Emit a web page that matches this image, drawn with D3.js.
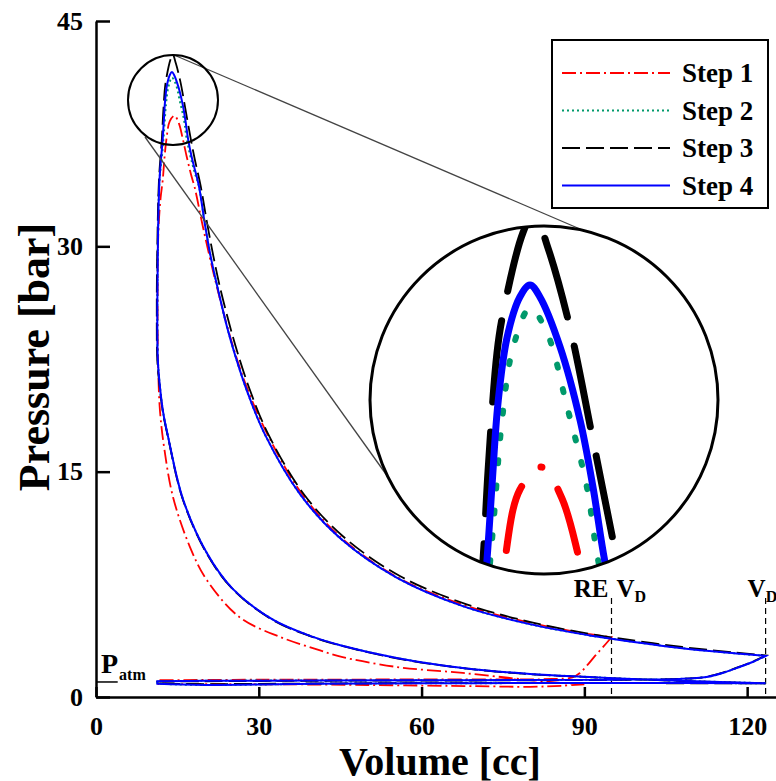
<!DOCTYPE html>
<html>
<head>
<meta charset="utf-8">
<script src="https://cdn.jsdelivr.net/npm/d3@7"></script>
<style>
  body { margin: 0; background: #fff; }
  svg { display: block; }
  text { font-family: "Liberation Serif", "Times New Roman", serif; font-weight: bold; }
</style>
</head>
<body>
<div id="chart"></div>
<script>
// volume [cc] / pressure [bar] pairs, in cycle order
const step1 = [
  [90, 0.85], [86, 0.93], [79.9, 1.13], [67.6, 1.6], [55.4, 2.0], [44.9, 2.7], [41.3, 3.1],
  [33.9, 4.0], [26.5, 5.3], [20.4, 7.8], [17.3, 10.0], [14.2, 13.3], [12.6, 16.5], [11.8, 19],
  [11.45, 22], [11.35, 27], [11.5, 31], [11.9, 33.2], [12.3, 34.4], [12.6, 35.8], [13.0, 37.19],
  [13.6, 38.34], [14.47, 38.7], [15.26, 38.2], [15.97, 37.19], [16.7, 36.0], [17.5, 34.8],
  [18.2, 33.9], [19.7, 31.3], [21.4, 28.6], [23.2, 26.0], [25.2, 23.4], [27.5, 20.9], [31.3, 17.7],
  [37.8, 13.6], [45.2, 10.6], [55.4, 8.0], [67.6, 6.15], [79.9, 4.95], [91, 4.18], [95, 3.98],
  [95, 3.98], [93.5, 3.35], [92, 2.75], [90.5, 2.1], [89.2, 1.6], [87.8, 1.3], [84, 1.2],
  [60, 1.17], [30, 1.15], [11.5, 1.12], [11.5, 1.12], [11.5, 0.86], [11.5, 0.86], [30, 0.85],
  [50, 0.8], [70, 0.72], [80, 0.68], [86, 0.75], [90, 0.85]
];
const step2 = [
  [123.4, 0.92], [112, 1.03], [100, 1.18], [91, 1.33], [80, 1.53], [67.6, 1.93], [55.4, 2.6],
  [45, 3.45], [40, 4.0], [32.6, 5.15], [25.2, 7.2], [20.4, 9.6], [16, 13.2], [13.3, 17.3],
  [12.4, 18.9], [11.8, 20.6], [11.4, 22.4], [11.3, 26], [11.4, 30], [11.7, 34.4], [12.2, 36.2],
  [12.54, 37.7], [12.9, 39.45], [13.33, 40.6], [14.0, 41.23], [14.67, 40.84], [15.46, 39.66],
  [16.24, 38.38], [16.68, 37.22], [17.4, 36.0], [18.2, 34.9], [19.0, 33.95], [20.1, 31.4],
  [21.2, 29.2], [22.5, 27.1], [24.1, 24.7], [25.6, 22.8], [27.8, 20.4], [31.1, 17.5],
  [37.6, 13.5], [44.9, 10.6], [55.4, 7.95], [67.6, 6.05], [79.9, 4.85], [91, 4.1], [95, 3.88],
  [108, 3.25], [118, 2.9], [123.4, 2.73], [123.4, 2.73], [121, 2.33], [118.6, 2.0], [115.5, 1.6],
  [112.5, 1.33], [107.5, 1.2], [95, 1.15], [70, 1.12], [40, 1.1], [20, 1.08], [11.3, 1.05],
  [11.3, 1.05], [11.3, 0.88], [11.3, 0.88], [20, 0.8], [40, 0.88], [70, 0.92], [100, 0.93],
  [123.4, 0.92]
];
const step3 = [
  [123.4, 0.9], [112, 1.02], [100, 1.17], [91, 1.32], [80, 1.52], [67.6, 1.92], [55.4, 2.58],
  [45, 3.43], [40, 3.98], [32.6, 5.12], [25.2, 7.17], [20.4, 9.55], [16, 13.15], [13.3, 17.25],
  [12.35, 18.9], [11.75, 20.6], [11.3, 22.4], [11.2, 26], [11.3, 30], [11.6, 34.4], [12.15, 37.22],
  [12.35, 38.65], [12.7, 40.52], [12.94, 41.15], [13.72, 42.43], [14.15, 42.75], [14.7, 42.2],
  [15.57, 40.93], [16.48, 39.13], [17.43, 37.22], [18.2, 35.8], [19.3, 34.0], [20.4, 31.7],
  [21.6, 29.4], [22.9, 27.2], [24.6, 24.8], [26.1, 22.9], [28.3, 20.5], [31.6, 17.6], [38.2, 13.55],
  [45.5, 10.7], [56, 8.05], [68.3, 6.17], [80.5, 4.95], [91.3, 4.18], [95, 3.97], [108, 3.33],
  [118, 2.95], [123.4, 2.77], [123.4, 2.77], [121, 2.35], [118.6, 2.02], [115.5, 1.62],
  [112.5, 1.35], [107.5, 1.2], [95, 1.14], [70, 1.1], [40, 1.08], [20, 1.05], [11.3, 1.02],
  [11.3, 1.02], [11.3, 0.9], [11.3, 0.9], [20, 0.86], [40, 0.9], [70, 0.93], [100, 0.92],
  [123.4, 0.9]
];
const step4 = [
  [123.4, 0.92], [112, 1.03], [100, 1.18], [91, 1.33], [80, 1.53], [67.6, 1.93], [55.4, 2.6],
  [45, 3.45], [40, 4.0], [32.6, 5.15], [25.2, 7.2], [20.4, 9.6], [16, 13.2], [13.3, 17.3],
  [12.4, 18.9], [11.8, 20.6], [11.4, 22.4], [11.3, 26], [11.4, 30], [11.7, 34.4], [12.3, 37.19],
  [12.5, 38.38], [12.74, 39.72], [13.1, 40.77], [13.6, 41.41], [14.0, 41.6], [14.39, 41.41],
  [15.18, 40.62], [15.97, 39.45], [16.48, 38.38], [16.95, 37.19], [17.6, 36.0], [18.3, 35.0],
  [19.0, 33.95], [20.1, 31.4], [21.2, 29.2], [22.5, 27.1], [24.1, 24.7], [25.6, 22.8],
  [27.8, 20.4], [31.1, 17.5], [37.6, 13.5], [44.9, 10.6], [55.4, 7.95], [67.6, 6.05],
  [79.9, 4.85], [91, 4.1], [95, 3.88], [108, 3.25], [118, 2.9], [123.4, 2.73], [123.4, 2.73],
  [121, 2.33], [118.6, 2.0], [115.5, 1.6], [112.5, 1.33], [107.5, 1.2], [95, 1.15], [70, 1.12],
  [40, 1.1], [20, 1.08], [11.3, 1.05], [11.3, 1.05], [11.3, 0.88], [11.3, 0.88], [20, 0.8],
  [40, 0.88], [70, 0.92], [100, 0.93], [123.4, 0.92]
];

const stepNames = ["Step 1", "Step 2", "Step 3", "Step 4"];
const xTicks = [0, 30, 60, 90, 120];
const yTicks = [0, 15, 30, 45];
const patm = 1;
const volRE = 95;
const volVD = 123.4;

const series = [step1, step2, step3, step4];
const styles = [
  { color: "#ff0000", dash: "14,4,2,4", width: 1.8, idash: "66,28,1,28", iwidth: 7, dotAtPeak: true },
  { color: "#00996b", dash: "2,3", width: 2, idash: "3,22", iwidth: 6 },
  { color: "#000000", dash: "18,6", width: 1.8, idash: "82,30", iwidth: 7 },
  { color: "#0000ff", dash: null, width: 2, idash: null, iwidth: 7 }
];

const width = 776, height = 781;
const svg = d3.select("#chart").append("svg")
  .attr("width", width)
  .attr("height", height);

const x = d3.scaleLinear().domain([0, 125.5]).range([96, 777]);
const y = d3.scaleLinear().domain([0, 45]).range([697, 21]);

const line = d3.line()
  .x(d => x(d[0]))
  .y(d => y(d[1]))
  .curve(d3.curveCatmullRom.alpha(0.5));

// axes, ticks pointing inward
const xAxis = svg.append("g")
  .attr("transform", `translate(0,${y(0)})`)
  .call(d3.axisBottom(x).tickValues(xTicks).tickSize(-10).tickSizeOuter(0).tickPadding(20));
const yAxis = svg.append("g")
  .attr("transform", `translate(${x(0)},0)`)
  .call(d3.axisLeft(y).tickValues(yTicks).tickSize(-14).tickSizeOuter(0).tickPadding(13));

[xAxis, yAxis].forEach(g => {
  g.selectAll("path, line").attr("stroke", "#000").attr("stroke-width", 2.5);
  g.selectAll("text")
    .attr("fill", "#000")
    .style("font-size", "26px")
    .style("font-family", "'Liberation Serif', serif")
    .style("font-weight", "bold");
});

svg.append("text")
  .attr("x", 440)
  .attr("y", 775)
  .attr("text-anchor", "middle")
  .style("font-size", "40px")
  .text("Volume [cc]");

svg.append("text")
  .attr("transform", "translate(49,357) rotate(-90)")
  .attr("text-anchor", "middle")
  .style("font-size", "44px")
  .text("Pressure [bar]");

// atmospheric pressure marker
svg.append("line")
  .attr("x1", x(0)).attr("x2", x(4))
  .attr("y1", y(patm)).attr("y2", y(patm))
  .attr("stroke", "#000").attr("stroke-width", 1.5);
const pLabel = svg.append("text")
  .attr("x", 101).attr("y", 673)
  .style("font-size", "28px")
  .text("P");
pLabel.append("tspan").attr("dx", 1).attr("dy", 7).style("font-size", "16px").text("atm");

// RE and VD markers
[volRE, volVD].forEach(v => {
  svg.append("line")
    .attr("x1", x(v)).attr("x2", x(v))
    .attr("y1", 598).attr("y2", y(0))
    .attr("stroke", "#000").attr("stroke-width", 1.2)
    .attr("stroke-dasharray", "6,4");
});
svg.append("text")
  .attr("x", x(volRE) - 3).attr("y", 597)
  .attr("text-anchor", "end")
  .style("font-size", "25px")
  .text("RE");
[x(volRE) + 5, x(volVD) - 18].forEach(px => {
  const t = svg.append("text").attr("x", px).attr("y", 597).style("font-size", "25px").text("V");
  t.append("tspan").attr("dy", 5).style("font-size", "16px").text("D");
});

// cycles
series.forEach((s, i) => {
  svg.append("path")
    .datum(s)
    .attr("d", line)
    .attr("fill", "none")
    .attr("stroke", styles[i].color)
    .attr("stroke-width", styles[i].width)
    .attr("stroke-dasharray", styles[i].dash);
});

// magnified view of the peak
const small = { cx: 173, cy: 100, r: 45 };
const big = { cx: 544, cy: 400, r: 174 };

svg.append("line")
  .attr("x1", 174).attr("y1", 55).attr("x2", 580).attr("y2", 229)
  .attr("stroke", "#444").attr("stroke-width", 1.3);
svg.append("line")
  .attr("x1", 145).attr("y1", 137).attr("x2", 388).attr("y2", 477)
  .attr("stroke", "#444").attr("stroke-width", 1.3);
svg.append("circle")
  .attr("cx", small.cx).attr("cy", small.cy).attr("r", small.r)
  .attr("fill", "none").attr("stroke", "#000").attr("stroke-width", 2);

svg.append("clipPath").attr("id", "lens")
  .append("circle").attr("cx", big.cx).attr("cy", big.cy).attr("r", big.r);
svg.append("circle")
  .attr("cx", big.cx).attr("cy", big.cy).attr("r", big.r)
  .attr("fill", "#fff");

const ix = d3.scaleLinear().domain([14, 15]).range([530, 555.4]);
const iy = d3.scaleLinear().domain([41.6, 40.6]).range([285, 347.8]);
const iline = d3.line()
  .x(d => ix(d[0]))
  .y(d => iy(d[1]))
  .curve(d3.curveCatmullRom.alpha(0.5));

const lens = svg.append("g").attr("clip-path", "url(#lens)");
series.forEach((s, i) => {
  const p = lens.append("path")
    .datum(s.filter(d => d[1] > 33))
    .attr("d", iline)
    .attr("fill", "none")
    .attr("stroke", styles[i].color)
    .attr("stroke-width", styles[i].iwidth)
    .attr("stroke-linecap", "round")
    .attr("stroke-dasharray", styles[i].idash);
  if (styles[i].dotAtPeak) {
    // put the dot of the dash-dot pattern on the top of the curve
    const node = p.node();
    const total = node.getTotalLength();
    let best = 0, bestY = Infinity;
    for (let l = 0; l <= total; l += 0.5) {
      const pt = node.getPointAtLength(l);
      if (pt.y < bestY) { bestY = pt.y; best = l; }
    }
    p.attr("stroke-dashoffset", 94.5 - best);
  }
});

svg.append("circle")
  .attr("cx", big.cx).attr("cy", big.cy).attr("r", big.r)
  .attr("fill", "none").attr("stroke", "#000").attr("stroke-width", 3);

// legend
const legend = svg.append("g");
legend.append("rect")
  .attr("x", 552).attr("y", 40).attr("width", 216).attr("height", 168)
  .attr("fill", "#fff").attr("stroke", "#000").attr("stroke-width", 2);
stepNames.forEach((name, i) => {
  const ly = 73 + i * 37.5;
  legend.append("line")
    .attr("x1", 562).attr("x2", 670)
    .attr("y1", ly).attr("y2", ly)
    .attr("stroke", styles[i].color)
    .attr("stroke-width", styles[i].width)
    .attr("stroke-dasharray", styles[i].dash);
  legend.append("text")
    .attr("x", 682).attr("y", ly)
    .attr("dy", "0.35em")
    .style("font-size", "27px")
    .text(name);
});
</script>
</body>
</html>
